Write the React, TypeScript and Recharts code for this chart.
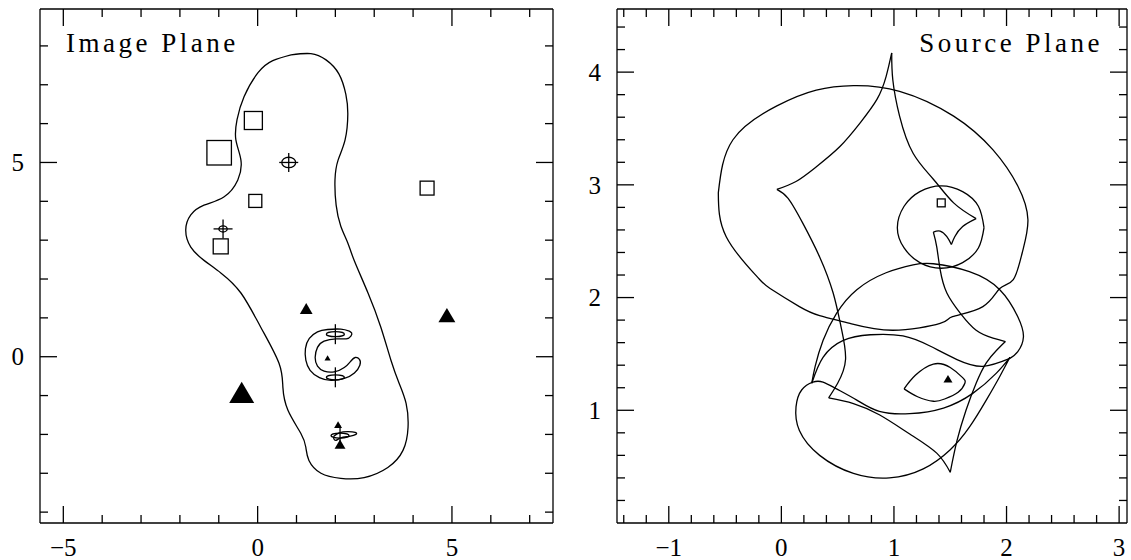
import { ScatterChart, Scatter, XAxis, YAxis, ZAxis } from "recharts";

// ---- image plane (left panel) ----
const imgXTicks = [-5, -4, -3, -2, -1, 0, 1, 2, 3, 4, 5, 6, 7];
const imgYTicks = [-4, -3, -2, -1, 0, 1, 2, 3, 4, 5, 6, 7, 8];

const imgCritical = [
  { x: 0.86, y: 7.77 }, { x: 1.37, y: 7.8 }, { x: 1.76, y: 7.64 }, { x: 2.09, y: 7.28 },
  { x: 2.27, y: 6.75 }, { x: 2.32, y: 6.24 }, { x: 2.25, y: 5.58 }, { x: 2.07, y: 5.06 },
  { x: 1.99, y: 4.55 }, { x: 2.02, y: 3.9 }, { x: 2.14, y: 3.36 }, { x: 2.32, y: 2.93 },
  { x: 2.48, y: 2.49 }, { x: 2.84, y: 1.64 }, { x: 3.17, y: 0.76 }, { x: 3.43, y: -0.09 },
  { x: 3.64, y: -0.68 }, { x: 3.82, y: -1.2 }, { x: 3.87, y: -1.82 }, { x: 3.74, y: -2.41 },
  { x: 3.35, y: -2.85 }, { x: 2.74, y: -3.11 }, { x: 2.14, y: -3.13 }, { x: 1.63, y: -3.0 },
  { x: 1.32, y: -2.67 }, { x: 1.24, y: -2.33 }, { x: 1.11, y: -1.97 }, { x: 0.78, y: -1.38 },
  { x: 0.65, y: -0.79 }, { x: 0.55, y: -0.17 }, { x: 0.08, y: 0.76 }, { x: -0.43, y: 1.64 },
  { x: -0.94, y: 2.15 }, { x: -1.38, y: 2.48 }, { x: -1.72, y: 2.82 }, { x: -1.85, y: 3.26 },
  { x: -1.72, y: 3.65 }, { x: -1.38, y: 3.9 }, { x: -0.87, y: 4.11 }, { x: -0.51, y: 4.55 },
  { x: -0.43, y: 5.06 }, { x: -0.56, y: 5.58 }, { x: -0.53, y: 6.1 }, { x: -0.35, y: 6.69 },
  { x: 0.01, y: 7.31 }, { x: 0.39, y: 7.62 }, { x: 0.86, y: 7.77 },
];

const imgArc = [
  { x: 2.36, y: 0.66 }, { x: 2.14, y: 0.71 }, { x: 1.8, y: 0.7 }, { x: 1.54, y: 0.64 },
  { x: 1.33, y: 0.47 }, { x: 1.23, y: 0.21 }, { x: 1.24, y: -0.09 }, { x: 1.35, y: -0.35 },
  { x: 1.59, y: -0.54 }, { x: 1.89, y: -0.61 }, { x: 2.23, y: -0.56 }, { x: 2.49, y: -0.42 },
  { x: 2.63, y: -0.22 }, { x: 2.62, y: -0.07 }, { x: 2.51, y: -0.02 }, { x: 2.4, y: -0.11 },
  { x: 2.23, y: -0.28 }, { x: 1.97, y: -0.39 }, { x: 1.71, y: -0.37 }, { x: 1.54, y: -0.24 },
  { x: 1.48, y: -0.02 }, { x: 1.54, y: 0.24 }, { x: 1.71, y: 0.4 }, { x: 2.02, y: 0.46 },
  { x: 2.28, y: 0.46 }, { x: 2.4, y: 0.53 }, { x: 2.42, y: 0.61 }, { x: 2.36, y: 0.66 },
];

const imgKnot = [
  { x: 1.96, y: -2.05 }, { x: 2.1, y: -1.96 }, { x: 2.32, y: -1.93 }, { x: 2.51, y: -1.95 },
  { x: 2.53, y: -2.0 }, { x: 2.36, y: -2.05 }, { x: 2.14, y: -2.09 }, { x: 2.02, y: -2.15 },
  { x: 1.96, y: -2.11 }, { x: 1.96, y: -2.05 },
];

// z = relative flux (marker area)
const imgSquares = [
  { x: -0.99, y: 5.25, z: 0.96 },
  { x: -0.11, y: 6.08, z: 0.52 },
  { x: -0.06, y: 4.01, z: 0.27 },
  { x: -0.95, y: 2.84, z: 0.36 },
  { x: 4.36, y: 4.34, z: 0.31 },
];
const imgTriangles = [
  { x: -0.41, y: -0.92, z: 1.0 },
  { x: 1.25, y: 1.24, z: 0.26 },
  { x: 4.87, y: 1.07, z: 0.46 },
  { x: 1.8, y: -0.03, z: 0.06 },
  { x: 2.07, y: -1.75, z: 0.1 },
  { x: 2.12, y: -2.25, z: 0.19 },
];
const imgRoundCross = [
  { x: 0.8, y: 5.0, z: 0.31 },
  { x: -0.89, y: 3.29, z: 0.11 },
];
const imgFlatCross = [
  { x: 2.0, y: 0.58 },
  { x: 2.0, y: -0.53 },
  { x: 2.12, y: -2.03 },
];

// ---- source plane (right panel) ----
const srcXTicks = [
  -1.4, -1.2, -1, -0.8, -0.6, -0.4, -0.2, 0, 0.2, 0.4, 0.6, 0.8, 1, 1.2, 1.4, 1.6, 1.8, 2, 2.2,
  2.4, 2.6, 2.8, 3,
];
const srcYTicks = [
  0.2, 0.4, 0.6, 0.8, 1, 1.2, 1.4, 1.6, 1.8, 2, 2.2, 2.4, 2.6, 2.8, 3, 3.2, 3.4, 3.6, 3.8, 4,
  4.2, 4.4,
];

const srcBigEllipse = [
  { x: -0.56, y: 2.93 }, { x: -0.49, y: 2.54 }, { x: -0.22, y: 2.19 }, { x: -0.1, y: 2.08 },
  { x: 0.16, y: 1.92 }, { x: 0.34, y: 1.84 }, { x: 0.61, y: 1.77 }, { x: 0.99, y: 1.71 },
  { x: 1.41, y: 1.77 }, { x: 1.52, y: 1.83 }, { x: 1.79, y: 1.92 }, { x: 1.94, y: 2.08 },
  { x: 2.06, y: 2.16 }, { x: 2.14, y: 2.4 }, { x: 2.19, y: 2.69 }, { x: 2.1, y: 2.99 },
  { x: 1.88, y: 3.31 }, { x: 1.53, y: 3.61 }, { x: 1.05, y: 3.83 }, { x: 0.64, y: 3.88 },
  { x: 0.31, y: 3.84 }, { x: -0.04, y: 3.7 }, { x: -0.43, y: 3.4 }, { x: -0.56, y: 2.93 },
];

const srcSmallCircle = [
  { x: 1.8, y: 2.62 }, { x: 1.75, y: 2.81 }, { x: 1.61, y: 2.94 }, { x: 1.42, y: 2.99 },
  { x: 1.23, y: 2.94 }, { x: 1.09, y: 2.81 }, { x: 1.03, y: 2.62 }, { x: 1.09, y: 2.44 },
  { x: 1.23, y: 2.31 }, { x: 1.42, y: 2.26 }, { x: 1.61, y: 2.31 }, { x: 1.75, y: 2.44 },
  { x: 1.8, y: 2.62 },
];

// main caustic, split at its cusps
const srcCausticA = [
  [{ x: 0.98, y: 4.17 }, { x: 0.93, y: 3.96 }, { x: 0.85, y: 3.76 }, { x: 0.7, y: 3.55 },
   { x: 0.52, y: 3.34 }, { x: 0.31, y: 3.16 }, { x: 0.13, y: 3.03 }, { x: -0.04, y: 2.96 }],
  [{ x: -0.04, y: 2.96 }, { x: 0.06, y: 2.88 }, { x: 0.19, y: 2.66 }, { x: 0.34, y: 2.36 },
   { x: 0.46, y: 2.04 }, { x: 0.53, y: 1.74 }, { x: 0.57, y: 1.45 }, { x: 0.5, y: 1.24 },
   { x: 0.42, y: 1.11 }],
  [{ x: 0.42, y: 1.11 }, { x: 0.64, y: 1.06 }, { x: 0.87, y: 0.96 }, { x: 1.14, y: 0.79 },
   { x: 1.38, y: 0.62 }, { x: 1.5, y: 0.45 }],
  [{ x: 1.5, y: 0.45 }, { x: 1.56, y: 0.73 }, { x: 1.64, y: 1.0 }, { x: 1.73, y: 1.24 },
   { x: 1.82, y: 1.42 }, { x: 1.91, y: 1.53 }, { x: 1.99, y: 1.61 }],
  [{ x: 1.99, y: 1.61 }, { x: 1.88, y: 1.64 }, { x: 1.73, y: 1.71 }, { x: 1.59, y: 1.86 },
   { x: 1.47, y: 2.04 }, { x: 1.41, y: 2.25 }, { x: 1.38, y: 2.45 }, { x: 1.35, y: 2.58 }],
  [{ x: 1.35, y: 2.58 }, { x: 1.41, y: 2.59 }, { x: 1.47, y: 2.54 }, { x: 1.51, y: 2.47 }],
  [{ x: 1.51, y: 2.47 }, { x: 1.54, y: 2.54 }, { x: 1.61, y: 2.63 }, { x: 1.73, y: 2.7 }],
  [{ x: 1.73, y: 2.7 }, { x: 1.53, y: 2.84 }, { x: 1.35, y: 3.05 }, { x: 1.17, y: 3.28 },
   { x: 1.05, y: 3.61 }, { x: 0.99, y: 3.93 }, { x: 0.98, y: 4.17 }],
];

const srcCausticB = [
  [{ x: 0.27, y: 1.24 }, { x: 0.3, y: 1.39 }, { x: 0.37, y: 1.62 }, { x: 0.49, y: 1.86 },
   { x: 0.67, y: 2.07 }, { x: 0.93, y: 2.22 }, { x: 1.17, y: 2.29 }, { x: 1.35, y: 2.3 },
   { x: 1.67, y: 2.23 }, { x: 1.94, y: 2.07 }, { x: 2.1, y: 1.83 }, { x: 2.15, y: 1.65 },
   { x: 2.1, y: 1.52 }, { x: 2.03, y: 1.46 }],
  [{ x: 2.03, y: 1.46 }, { x: 1.79, y: 1.39 }, { x: 1.56, y: 1.45 }, { x: 1.32, y: 1.57 },
   { x: 1.08, y: 1.66 }, { x: 0.79, y: 1.67 }, { x: 0.55, y: 1.62 }, { x: 0.37, y: 1.47 },
   { x: 0.27, y: 1.24 }],
];

const srcCausticC = [
  { x: 2.03, y: 1.47 }, { x: 1.91, y: 1.33 }, { x: 1.7, y: 1.15 }, { x: 1.44, y: 1.02 },
  { x: 1.14, y: 0.97 }, { x: 0.87, y: 0.99 }, { x: 0.67, y: 1.09 }, { x: 0.49, y: 1.19 },
  { x: 0.37, y: 1.25 }, { x: 0.28, y: 1.25 }, { x: 0.18, y: 1.18 }, { x: 0.13, y: 1.03 },
  { x: 0.16, y: 0.82 }, { x: 0.34, y: 0.6 }, { x: 0.64, y: 0.44 }, { x: 0.96, y: 0.4 },
  { x: 1.26, y: 0.48 }, { x: 1.5, y: 0.65 }, { x: 1.67, y: 0.85 }, { x: 1.82, y: 1.09 },
  { x: 1.94, y: 1.3 }, { x: 2.03, y: 1.47 },
];

const srcEye = [
  [{ x: 1.09, y: 1.19 }, { x: 1.19, y: 1.31 }, { x: 1.35, y: 1.41 }, { x: 1.5, y: 1.38 },
   { x: 1.61, y: 1.29 }, { x: 1.63, y: 1.24 }, { x: 1.57, y: 1.16 }, { x: 1.45, y: 1.1 },
   { x: 1.35, y: 1.08 }, { x: 1.21, y: 1.12 }, { x: 1.09, y: 1.19 }],
];

const srcSquares = [{ x: 1.42, y: 2.84, z: 0.1 }];
const srcTriangles = [{ x: 1.48, y: 1.28, z: 0.13 }];

const INK = "#000";
const LW = 1.3;
const FONT = "'Liberation Serif', 'DejaVu Serif', serif";

const fmt = (v: number) => (v < 0 ? "\u2212" + Math.abs(v) : String(v));
const onStep = (v: number, step: number) => Math.abs(v / step - Math.round(v / step)) < 1e-6;

function makeTick(side: "bottom" | "top" | "left" | "right", majorStep: number, label: boolean) {
  return (p: any) => {
    const { x, y, payload } = p;
    const v = payload.value as number;
    const major = onStep(v, majorStep);
    const len = major ? 17 : 8;
    let x2 = x;
    let y2 = y;
    if (side === "bottom") y2 = y - len;
    else if (side === "top") y2 = y + len;
    else if (side === "left") x2 = x + len;
    else x2 = x - len;
    return (
      <g>
        <line x1={x} y1={y} x2={x2} y2={y2} stroke={INK} strokeWidth={LW} />
        {label && major && side === "bottom" && (
          <text x={x} y={y + 33} textAnchor="middle" fontFamily={FONT} fontSize={25} fill={INK}>
            {fmt(v)}
          </text>
        )}
        {label && major && side === "left" && (
          <text x={x - 16} y={y} dy="0.35em" textAnchor="end" fontFamily={FONT} fontSize={25} fill={INK}>
            {fmt(v)}
          </text>
        )}
      </g>
    );
  };
}

const noDot = () => <g />;

const SquareMark = (p: any) => {
  const s = p.width;
  return <rect x={p.cx - s / 2} y={p.cy - s / 2} width={s} height={s} fill="none" stroke={INK} strokeWidth={LW} />;
};

const TriMark = (p: any) => {
  const w = p.width;
  const h = w * 0.85;
  return (
    <path
      d={`M${p.cx - w / 2},${p.cy + h / 2} L${p.cx + w / 2},${p.cy + h / 2} L${p.cx},${p.cy - h / 2} Z`}
      fill={INK}
    />
  );
};

const RoundCross = (p: any) => {
  const rx = p.width / 2;
  return (
    <g stroke={INK} strokeWidth={LW} fill="none">
      <ellipse cx={p.cx} cy={p.cy} rx={rx} ry={rx * 0.75} />
      <line x1={p.cx - 9.5} x2={p.cx + 9.5} y1={p.cy} y2={p.cy} />
      <line x1={p.cx} x2={p.cx} y1={p.cy - 9.5} y2={p.cy + 9.5} />
    </g>
  );
};

const FlatCross = (p: any) => (
  <g stroke={INK} strokeWidth={LW} fill="none">
    <ellipse cx={p.cx} cy={p.cy} rx={9} ry={2.5} />
    <line x1={p.cx} x2={p.cx} y1={p.cy - 10} y2={p.cy + 10} />
  </g>
);

function frameAxes(
  xDomain: [number, number],
  yDomain: [number, number],
  xTicks: number[],
  yTicks: number[],
  xMajor: number,
  yMajor: number,
) {
  const common = { type: "number" as const, allowDataOverflow: true, interval: 0 as const, tickSize: 0, tickMargin: 0 };
  const axisLine = { stroke: INK, strokeWidth: LW };
  return [
    <XAxis key="xb" xAxisId="b" orientation="bottom" dataKey="x" domain={xDomain} ticks={xTicks} height={1}
      axisLine={axisLine} tickLine={false} tick={makeTick("bottom", xMajor, true)} {...common} />,
    <XAxis key="xt" xAxisId="t" orientation="top" dataKey="x" domain={xDomain} ticks={xTicks} height={1}
      axisLine={axisLine} tickLine={false} tick={makeTick("top", xMajor, false)} {...common} />,
    <YAxis key="yl" yAxisId="l" orientation="left" dataKey="y" domain={yDomain} ticks={yTicks} width={1}
      axisLine={axisLine} tickLine={false} tick={makeTick("left", yMajor, true)} {...common} />,
    <YAxis key="yr" yAxisId="r" orientation="right" dataKey="y" domain={yDomain} ticks={yTicks} width={1}
      axisLine={axisLine} tickLine={false} tick={makeTick("right", yMajor, false)} {...common} />,
  ];
}

const curveProps = (smooth: boolean) => ({
  xAxisId: "b",
  yAxisId: "l",
  fill: INK,
  line: { stroke: INK, strokeWidth: LW },
  lineJointType: smooth ? ("natural" as const) : ("linear" as const),
  shape: noDot,
  isAnimationActive: false,
  legendType: "none" as const,
});

const markProps = { xAxisId: "b", yAxisId: "l", isAnimationActive: false, legendType: "none" as const };

export default function App() {
  return (
    <div style={{ position: "absolute", left: 0, top: 0, width: 1131, height: 560, background: "#fff" }}>
      <div style={{ position: "absolute", left: 0, top: 0 }}>
        <ScatterChart width={560} height={560} margin={{ top: 8, right: 6, bottom: 36, left: 39 }}>
          {frameAxes([-5.6, 7.6], [-4.28, 8.95], imgXTicks, imgYTicks, 5, 5)}
          <ZAxis dataKey="z" type="number" domain={[0, 1]} range={[0, 491]} />
          <Scatter data={imgCritical} {...curveProps(true)} />
          <Scatter data={imgArc} {...curveProps(true)} />
          <Scatter data={imgKnot} {...curveProps(true)} />
          <Scatter data={imgSquares} {...markProps} shape={SquareMark} />
          <Scatter data={imgTriangles} {...markProps} shape={TriMark} />
          <Scatter data={imgRoundCross} {...markProps} shape={RoundCross} />
          <Scatter data={imgFlatCross} {...markProps} shape={FlatCross} />
        </ScatterChart>
      </div>
      <div style={{ position: "absolute", left: 560, top: 0 }}>
        <ScatterChart width={571} height={560} margin={{ top: 8, right: 3, bottom: 36, left: 56 }}>
          {frameAxes([-1.46, 3.07], [0, 4.56], srcXTicks, srcYTicks, 1, 1)}
          <ZAxis dataKey="z" type="number" domain={[0, 1]} range={[0, 491]} />
          <Scatter data={srcBigEllipse} {...curveProps(true)} />
          <Scatter data={srcSmallCircle} {...curveProps(true)} />
          {srcCausticA.map((seg, i) => (
            <Scatter key={`a${i}`} data={seg} {...curveProps(true)} />
          ))}
          {srcCausticB.map((seg, i) => (
            <Scatter key={`b${i}`} data={seg} {...curveProps(true)} />
          ))}
          <Scatter data={srcCausticC} {...curveProps(true)} />
          {srcEye.map((seg, i) => (
            <Scatter key={`e${i}`} data={seg} {...curveProps(true)} />
          ))}
          <Scatter data={srcSquares} {...markProps} shape={SquareMark} />
          <Scatter data={srcTriangles} {...markProps} shape={TriMark} />
        </ScatterChart>
      </div>
      <div style={{ position: "absolute", left: 66, top: 26, fontFamily: FONT, fontSize: 27, letterSpacing: 3.5, lineHeight: "34px", whiteSpace: "nowrap" }}>
        Image Plane
      </div>
      <div style={{ position: "absolute", right: 1131 - 1103, top: 26, fontFamily: FONT, fontSize: 27, letterSpacing: 3.5, lineHeight: "34px", whiteSpace: "nowrap" }}>
        Source Plane
      </div>
    </div>
  );
}
